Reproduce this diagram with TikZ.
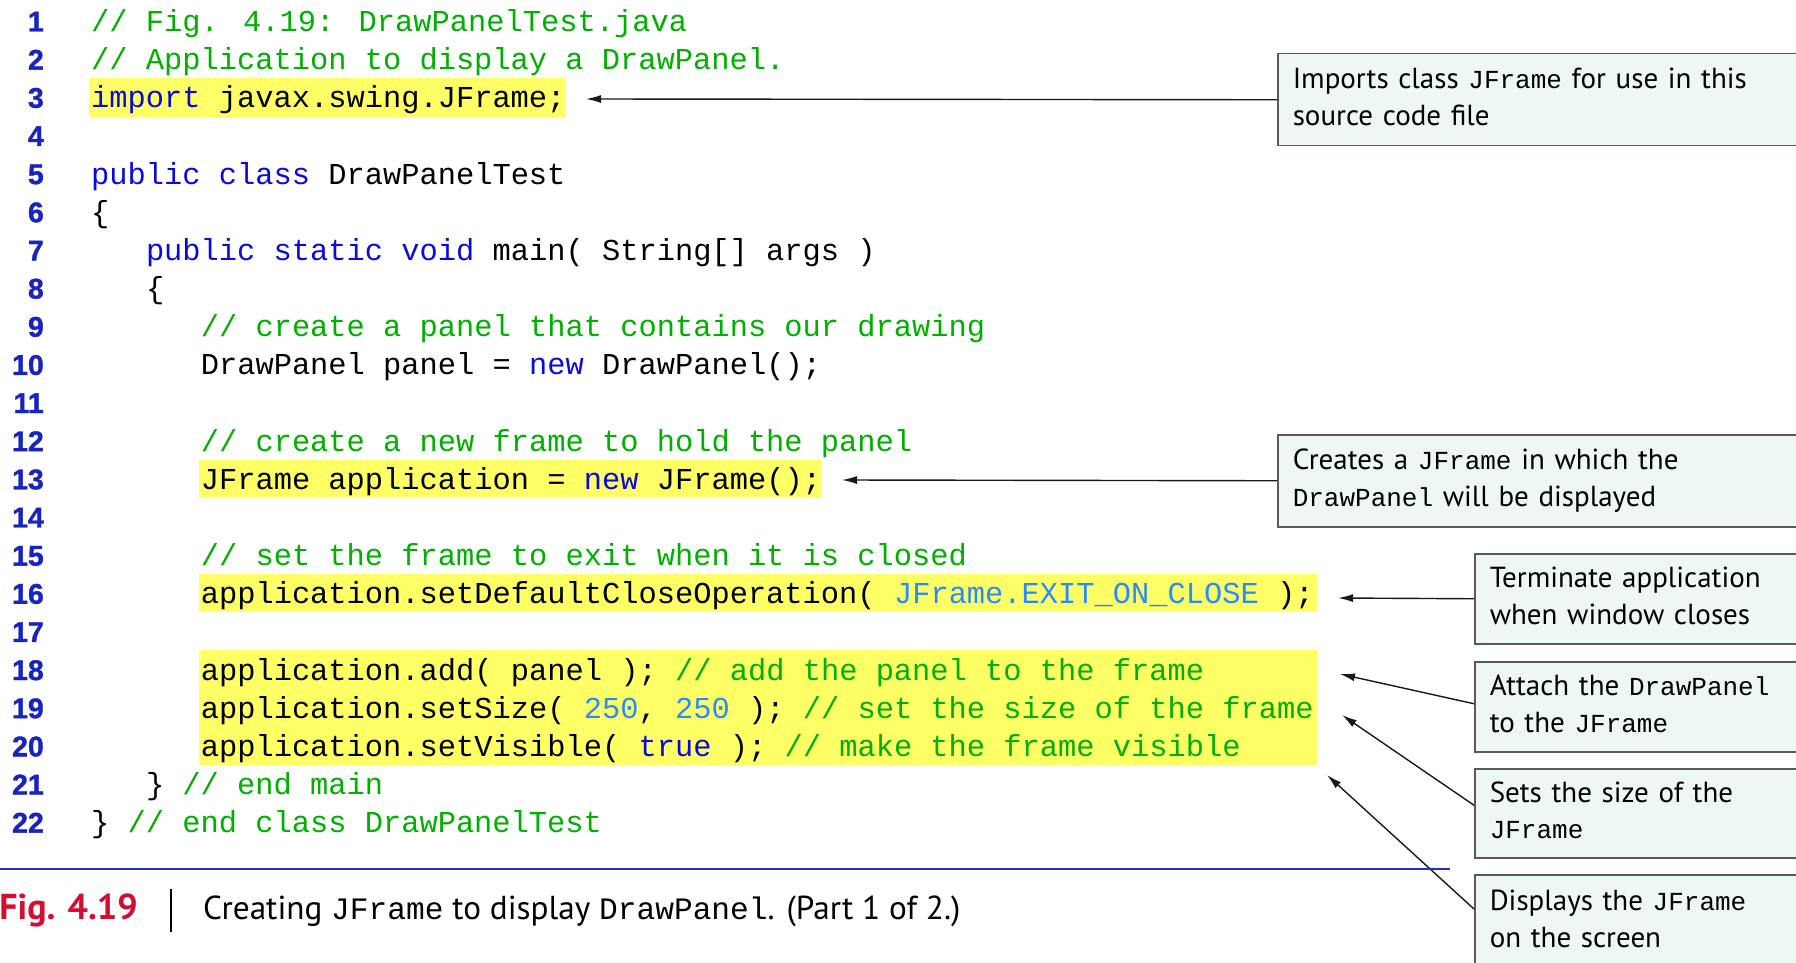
\documentclass[tikz,border=0pt]{standalone}
\usepackage{fontspec}
\setmainfont{PT Sans}
\newfontfamily\codefont{Liberation Mono}
\newfontfamily\numfont[BoldFeatures={FakeBold=1.2}]{Liberation Sans}
\usetikzlibrary{arrows.meta}
\definecolor{kw}{RGB}{10,10,220}
\definecolor{cmt}{RGB}{0,175,0}
\definecolor{lit}{RGB}{40,140,255}
\definecolor{hl}{RGB}{255,255,102}
\definecolor{lnum}{RGB}{25,35,190}
\definecolor{boxfill}{RGB}{238,246,246}
\definecolor{boxdraw}{RGB}{90,90,90}
\definecolor{rulecol}{RGB}{30,50,210}
\definecolor{figred}{RGB}{210,15,50}
\newcommand\K[1]{{\color{kw}#1}}
\newcommand\C[1]{{\color{cmt}#1}}
\newcommand\Lt[1]{{\color{lit}#1}}
\newcommand\jm[1]{{\codefont\fontsize{26}{36.5}\selectfont #1}}
\newcommand\jc[1]{{\codefont\fontsize{31.2}{36}\selectfont #1}}
\tikzset{
  codetext/.style={anchor=base west,inner sep=0pt,font=\codefont\fontsize{30.4}{36}\selectfont},
  lnstyle/.style={anchor=base east,inner sep=0pt,text=lnum,font=\numfont\bfseries\fontsize{28.5}{34}\selectfont},
  callout/.style={draw=boxdraw,fill=boxfill,line width=1.5pt,anchor=north west,align=left,
    inner xsep=15pt,inner ysep=0pt,text width=490pt,text height=22pt,text depth=44pt,
    font=\fontsize{29}{36.5}\selectfont},
  calloutR/.style={callout,text width=295pt},
  arr/.style={line width=1.4pt,draw=black!90,-{Latex[length=15pt,width=8pt]}},
  hlbox/.style={fill=hl}
}
\begin{document}
\begin{tikzpicture}[x=1pt,y=-1pt]
\useasboundingbox (0,0) rectangle (1796,963);
% highlights
\fill[hlbox] (89,78) rectangle (566,117);
\fill[hlbox] (199,460) rectangle (822,498);
\fill[hlbox] (199,574) rectangle (1317,612);
\fill[hlbox] (199,650) rectangle (1317,765);
% line numbers
\foreach \n in {1,...,22} {
  \node[lnstyle] (n\n) at (44,{31.5+(\n-1)*38.15}) {\n};
}
% code (col0 = 91, col3 = 145.8, col6 = 200.6)
\node[codetext] (c1) at (91,31.5) {\C{// Fig. 4.19: DrawPanelTest.java}};
\node[codetext] (c2) at (91,69.65) {\C{// Application to display a DrawPanel.}};
\node[codetext] (c3) at (91,107.8) {\K{import} javax.swing.JFrame;};
\node[codetext] (c5) at (91,184.1) {\K{public class} DrawPanelTest};
\node[codetext] (c6) at (91,222.25) {\{};
\node[codetext] (c7) at (145.8,260.4) {\K{public static void} main( String[] args )};
\node[codetext] (c8) at (145.8,298.55) {\{};
\node[codetext] (c9) at (200.6,336.7) {\C{// create a panel that contains our drawing}};
\node[codetext] (c10) at (200.6,374.85) {DrawPanel panel = \K{new} DrawPanel();};
\node[codetext] (c12) at (200.6,451.15) {\C{// create a new frame to hold the panel}};
\node[codetext] (c13) at (200.6,489.3) {JFrame application = \K{new} JFrame();};
\node[codetext] (c15) at (200.6,565.6) {\C{// set the frame to exit when it is closed}};
\node[codetext] (c16) at (200.6,603.75) {application.setDefaultCloseOperation( \Lt{JFrame.EXIT\_ON\_CLOSE} );};
\node[codetext] (c18) at (200.6,680.05) {application.add( panel ); \C{// add the panel to the frame}};
\node[codetext] (c19) at (200.6,718.2) {application.setSize( \Lt{250}, \Lt{250} ); \C{// set the size of the frame}};
\node[codetext] (c20) at (200.6,756.35) {application.setVisible( \K{true} ); \C{// make the frame visible}};
\node[codetext] (c21) at (145.8,794.5) {\} \C{// end main}};
\node[codetext] (c22) at (91,832.65) {\} \C{// end class DrawPanelTest}};
% callouts
\node[callout,minimum height=92pt] (b1) at (1277,53) {Imports class \jm{JFrame} for use in this\\source code file};
\node[callout,minimum height=92pt] (b2) at (1277,434) {Creates a \jm{JFrame} in which the\\\jm{DrawPanel} will be displayed};
\node[calloutR,minimum height=90pt] (b3) at (1474,553) {Terminate application\\when window closes};
\node[calloutR,minimum height=90pt] (b4) at (1474,661) {Attach the \jm{DrawPanel}\\to the \jm{JFrame}};
\node[calloutR,minimum height=89pt] (b5) at (1474,768) {Sets the size of the\\\jm{JFrame}};
\node[calloutR,minimum height=94pt] (b6) at (1474,874) {Displays the \jm{JFrame}\\on the screen};
% arrow tips
\coordinate (t1) at (586,99);
\coordinate (t2) at (842,480);
\coordinate (t3) at (1338,598);
\coordinate (t4) at (1340,674);
\coordinate (t5) at (1342,715);
\coordinate (t6) at (1327,775);
\draw[arr] (b1.west) -- (t1);
\draw[arr] (b2.west) -- (t2);
\draw[arr] (b3.west) -- (t3);
\draw[arr] ([yshift=3pt]b4.west) -- (t4);
\draw[arr] ([yshift=8pt]b5.west) -- (t5);
\draw[arr] ([yshift=-35pt]b6.north west) -- (t6);
% rule and caption
\draw[rulecol,line width=2.2pt] (0,869) -- (1450,869);
\node[anchor=base east,inner sep=0pt,text=figred,font=\bfseries\fontsize{36}{40}\selectfont] (fig) at (138,919) {Fig. 4.19};
\draw[line width=1.5pt] (171,889) -- (171,932);
\node[anchor=base west,inner sep=0pt,font=\fontsize{33.2}{36}\selectfont] (cap) at (203,919) {Creating \jc{JFrame} to display \jc{DrawPanel}. (Part 1 of 2.)};
\end{tikzpicture}
\end{document}
